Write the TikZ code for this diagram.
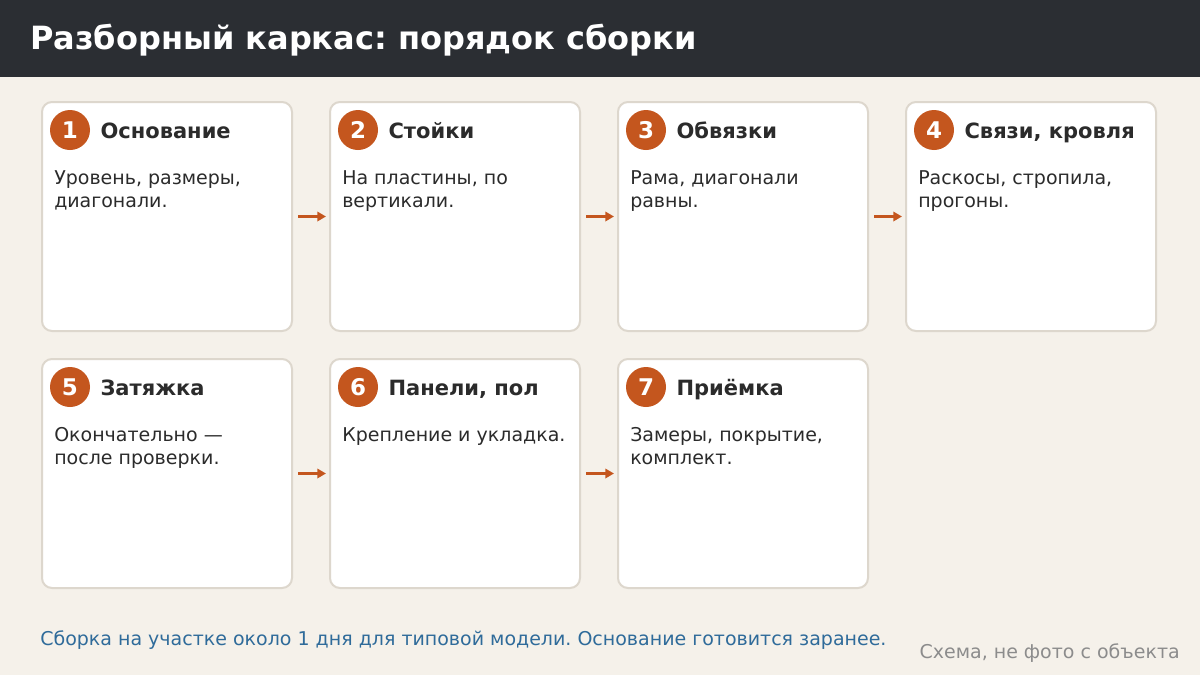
\documentclass[tikz,border=0pt]{standalone}
\usepackage{fontspec}
\setmainfont{DejaVu Sans}
\frenchspacing
\usetikzlibrary{positioning,arrows.meta}
\definecolor{headbg}{HTML}{2B2E33}
\definecolor{pagebg}{HTML}{F5F1EA}
\definecolor{cardline}{HTML}{DDD7CD}
\definecolor{accent}{HTML}{C4561E}
\definecolor{ink}{HTML}{2B2B2B}
\definecolor{notecol}{HTML}{2F6B9A}
\definecolor{creditcol}{HTML}{8C8C8C}
\tikzset{
  card/.style={draw=cardline, line width=1.5pt, fill=white, rounded corners=7.5pt, minimum width=187.5pt, minimum height=171.75pt, inner sep=0pt},
  badge/.style={circle, fill=accent, text=white, font=\bfseries\fontsize{17.25}{17.25}\selectfont, minimum size=30pt, inner sep=0pt},
  steptitle/.style={anchor=base west, font=\bfseries\fontsize{15.75}{18}\selectfont, text=ink, inner sep=0pt},
  stepbody/.style={anchor=north west, align=left, font=\fontsize{14.25}{17.25}\selectfont, text=ink, inner sep=0pt},
  flow/.style={-{Triangle[length=6.5pt,width=7pt]}, accent, line width=2.25pt, shorten <=3.75pt, shorten >=2.25pt}
}
\begin{document}
\begin{tikzpicture}[x=0.75pt, y=-0.75pt, node distance=27pt]
  \useasboundingbox (0,0) rectangle (1200,675);
  \fill[pagebg] (0,0) rectangle (1200,675);
  \fill[headbg] (0,0) rectangle (1200,77);
  \node (title) [anchor=base west, inner sep=0pt, text=white, font=\bfseries\fontsize{24}{28}\selectfont] at (30,49) {Разборный каркас: порядок сборки};

  % карточки
  \node (c1) [card, anchor=north west] at (41,101) {};
  \node (c2) [card, right=of c1] {};
  \node (c3) [card, right=of c2] {};
  \node (c4) [card, right=of c3] {};
  \node (c5) [card, below=19.5pt of c1] {};
  \node (c6) [card, right=of c5] {};
  \node (c7) [card, right=of c6] {};

  % номера, заголовки, тексты
  \node (b1) [badge] at ([xshift=21.75pt, yshift=-21.75pt]c1.north west) {1};
  \node (t1) [steptitle] at ([xshift=7.5pt, yshift=-6pt]b1.east) {Основание};
  \node (d1) [stepbody] at ([xshift=9.75pt, yshift=-51.75pt]c1.north west) {Уровень, размеры,\\диагонали.};
  \node (b2) [badge] at ([xshift=21.75pt, yshift=-21.75pt]c2.north west) {2};
  \node (t2) [steptitle] at ([xshift=7.5pt, yshift=-6pt]b2.east) {Стойки};
  \node (d2) [stepbody] at ([xshift=9.75pt, yshift=-51.75pt]c2.north west) {На пластины, по\\вертикали.};
  \node (b3) [badge] at ([xshift=21.75pt, yshift=-21.75pt]c3.north west) {3};
  \node (t3) [steptitle] at ([xshift=7.5pt, yshift=-6pt]b3.east) {Обвязки};
  \node (d3) [stepbody] at ([xshift=9.75pt, yshift=-51.75pt]c3.north west) {Рама, диагонали\\равны.};
  \node (b4) [badge] at ([xshift=21.75pt, yshift=-21.75pt]c4.north west) {4};
  \node (t4) [steptitle] at ([xshift=7.5pt, yshift=-6pt]b4.east) {Связи, кровля};
  \node (d4) [stepbody] at ([xshift=9.75pt, yshift=-51.75pt]c4.north west) {Раскосы, стропила,\\прогоны.};
  \node (b5) [badge] at ([xshift=21.75pt, yshift=-21.75pt]c5.north west) {5};
  \node (t5) [steptitle] at ([xshift=7.5pt, yshift=-6pt]b5.east) {Затяжка};
  \node (d5) [stepbody] at ([xshift=9.75pt, yshift=-51.75pt]c5.north west) {Окончательно —\\после проверки.};
  \node (b6) [badge] at ([xshift=21.75pt, yshift=-21.75pt]c6.north west) {6};
  \node (t6) [steptitle] at ([xshift=7.5pt, yshift=-6pt]b6.east) {Панели, пол};
  \node (d6) [stepbody] at ([xshift=9.75pt, yshift=-51.75pt]c6.north west) {Крепление и укладка.};
  \node (b7) [badge] at ([xshift=21.75pt, yshift=-21.75pt]c7.north west) {7};
  \node (t7) [steptitle] at ([xshift=7.5pt, yshift=-6pt]b7.east) {Приёмка};
  \node (d7) [stepbody] at ([xshift=9.75pt, yshift=-51.75pt]c7.north west) {Замеры, покрытие,\\комплект.};

  % стрелки
  \draw[flow] (c1.east) -- (c2.west);
  \draw[flow] (c2.east) -- (c3.west);
  \draw[flow] (c3.east) -- (c4.west);
  \draw[flow] (c5.east) -- (c6.west);
  \draw[flow] (c6.east) -- (c7.west);

  \node (note) [anchor=base west, inner sep=0pt, text=notecol, font=\fontsize{14.25}{17}\selectfont] at (40,645) {Сборка на участке около 1 дня для типовой модели. Основание готовится заранее.};
  \node (credit) [anchor=base east, inner sep=0pt, text=creditcol, font=\fontsize{14.25}{17}\selectfont] at (1180,658) {Схема, не фото с объекта};
\end{tikzpicture}
\end{document}
